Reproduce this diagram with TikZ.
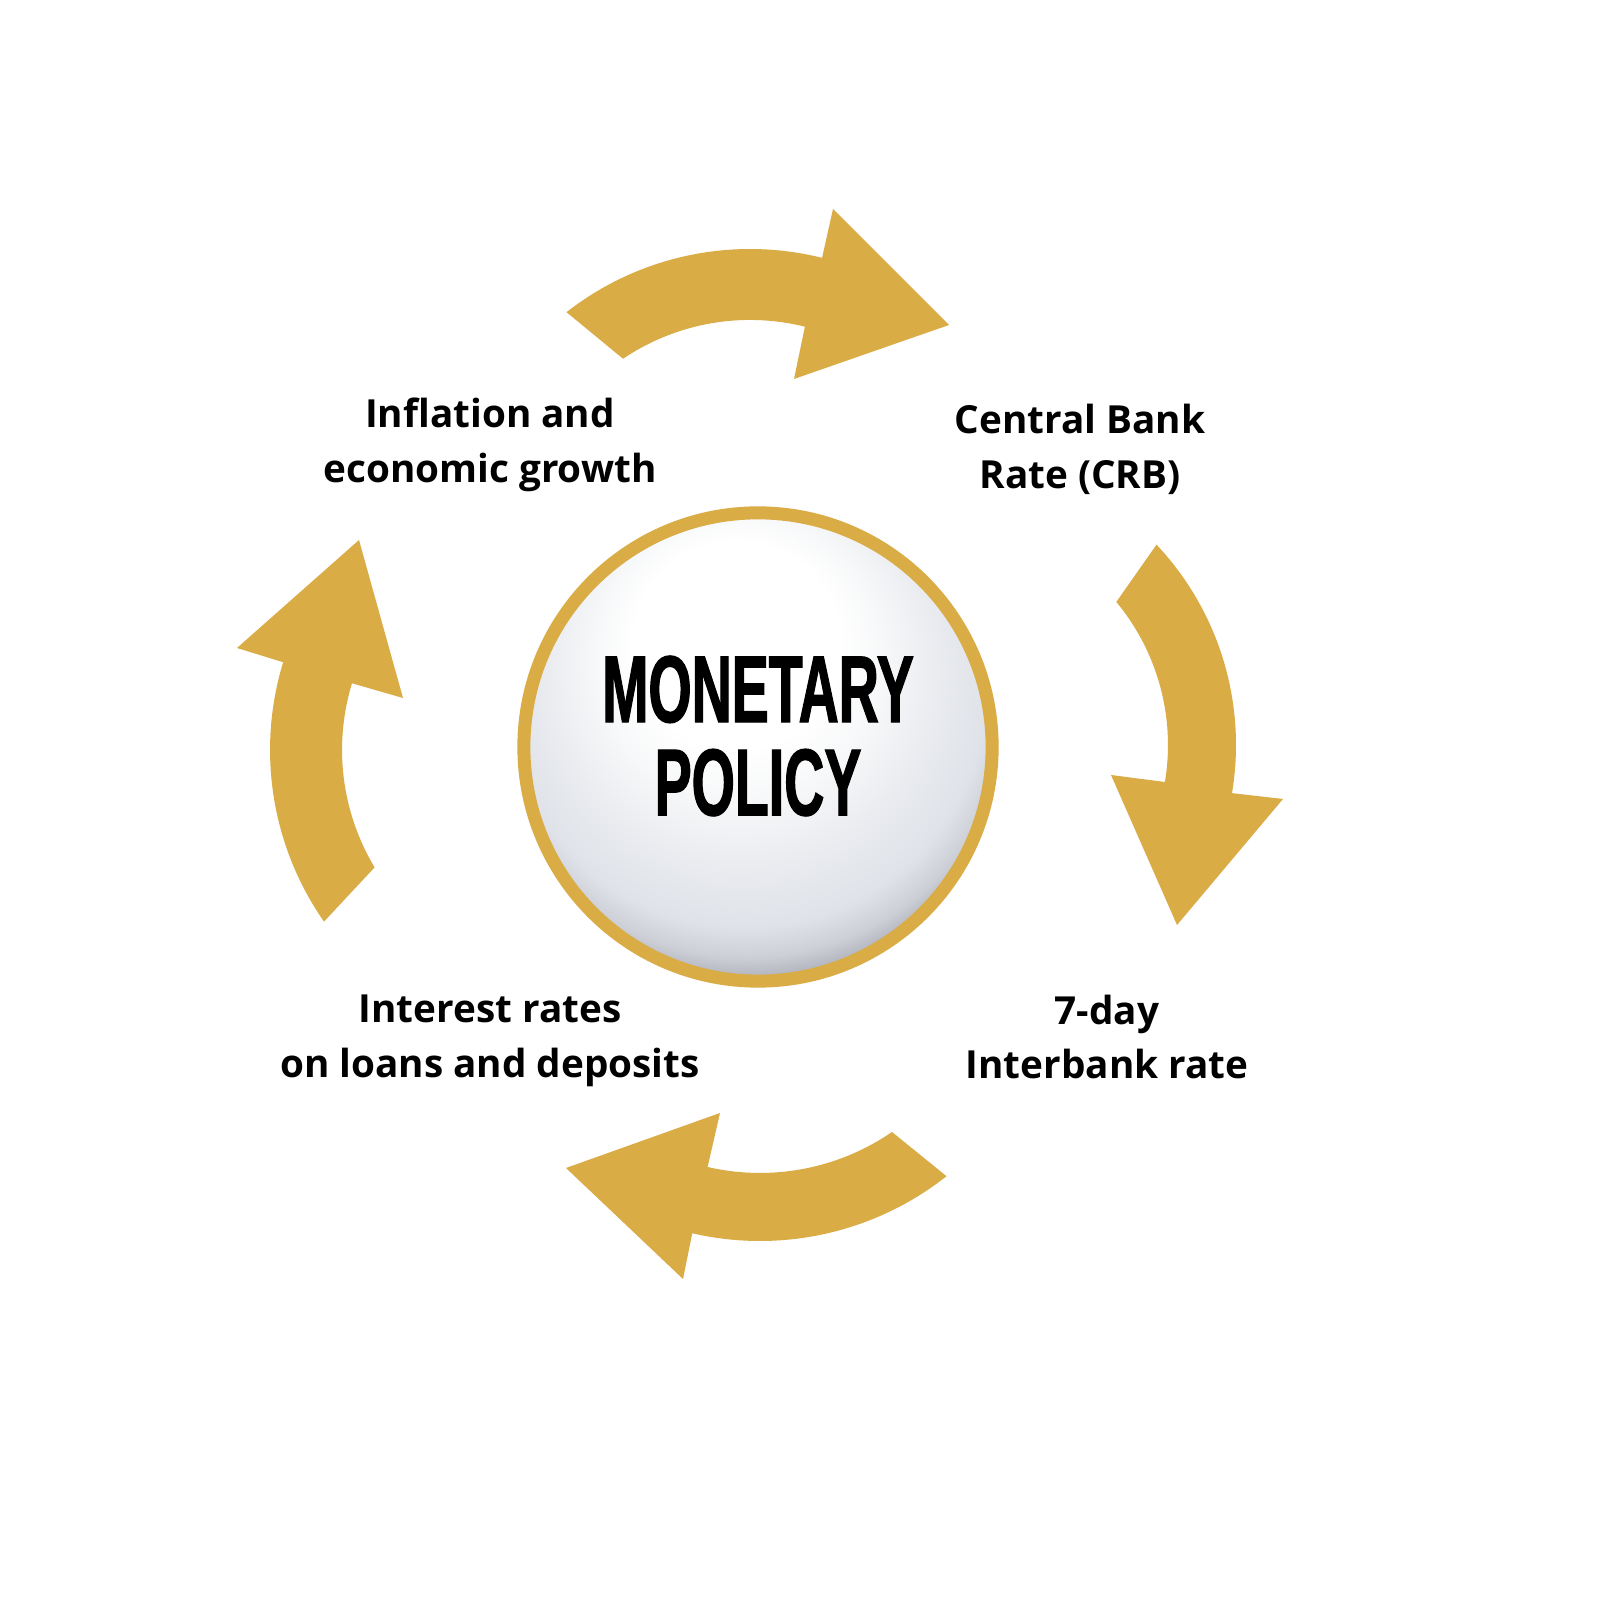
\documentclass[tikz,border=0pt]{standalone}
\usepackage{fontspec}
\setmainfont{Open Sans}
\newfontface\titlefont{Liberation Sans Bold}[FakeStretch=0.585,FakeBold=1.2]
\usetikzlibrary{positioning}

\definecolor{gold}{RGB}{218,172,70}
\definecolor{discwhite}{RGB}{247,248,249}
\definecolor{disclight}{RGB}{234,236,240}
\definecolor{discside}{RGB}{223,226,232}
\definecolor{discmid}{RGB}{204,207,214}
\definecolor{discedge}{RGB}{172,175,184}
\pgfdeclareradialshading{discshade}{\pgfpoint{-3bp}{14bp}}{color(0bp)=(white); color(11bp)=(white); color(15.3bp)=(discwhite); color(20.7bp)=(disclight); color(26bp)=(discside); color(28.5bp)=(discmid); color(30.5bp)=(discedge); color(50bp)=(discedge)}

\begin{document}
\begin{tikzpicture}[x=0.01cm, y=0.01cm]
	\tikzstyle{every node}+=[inner sep=0pt]
	\tikzstyle{cycletext}=[align=center, font=\fontsize{11}{15.6}\selectfont\bfseries]
	\fill [white] (0,0) rectangle (1600,1600);
	% centre
	\node [circle, minimum size=4.68cm, draw=gold, line width=0.13cm, shade, shading=discshade] (policy) at (758,853) {};
	\node [align=center, font=\titlefont\fontsize{27}{26.5}\selectfont] (title) at (758,864) {MONETARY\\POLICY};
	% the four steps
	\node [cycletext] (inflation) at (490,1155) {Inflation and\\economic growth};
	\node [cycletext] (crb) at (1080,1151) {Central Bank\\Rate (CRB)};
	\node [cycletext] (interbank) at (1107,563) {7-day\\Interbank rate};
	\node [cycletext] (rates) at (490,559) {Interest rates\\on loans and deposits};
	% inflation -> crb
	\fill [gold] (566.5,1287.8) arc (128:76:298) -- (833,1391) -- (949,1275) -- (794,1221) -- (804.9,1273.3) arc (76:124:227) -- cycle;
	% crb -> interbank
	\fill [gold] (1156.5,1055.3) arc (43.3:-9.5:292) -- (1283,801) -- (1177,675) -- (1111,825) -- (1164.9,818.0) arc (-9.5:39.7:224) -- cycle;
	% interbank -> rates
	\fill [gold] (946.5,423.8) arc (-51.7:-103:301) -- (683,321) -- (566,432) -- (720,487) -- (707.6,433.0) arc (-103:-55.5:233) -- cycle;
	% rates -> inflation
	\fill [gold] (324.0,678.4) arc (214.9:163:300) -- (237,952) -- (359,1060) -- (403,902) -- (352.0,916.7) arc (163:211:228) -- cycle;
\end{tikzpicture}
\end{document}
